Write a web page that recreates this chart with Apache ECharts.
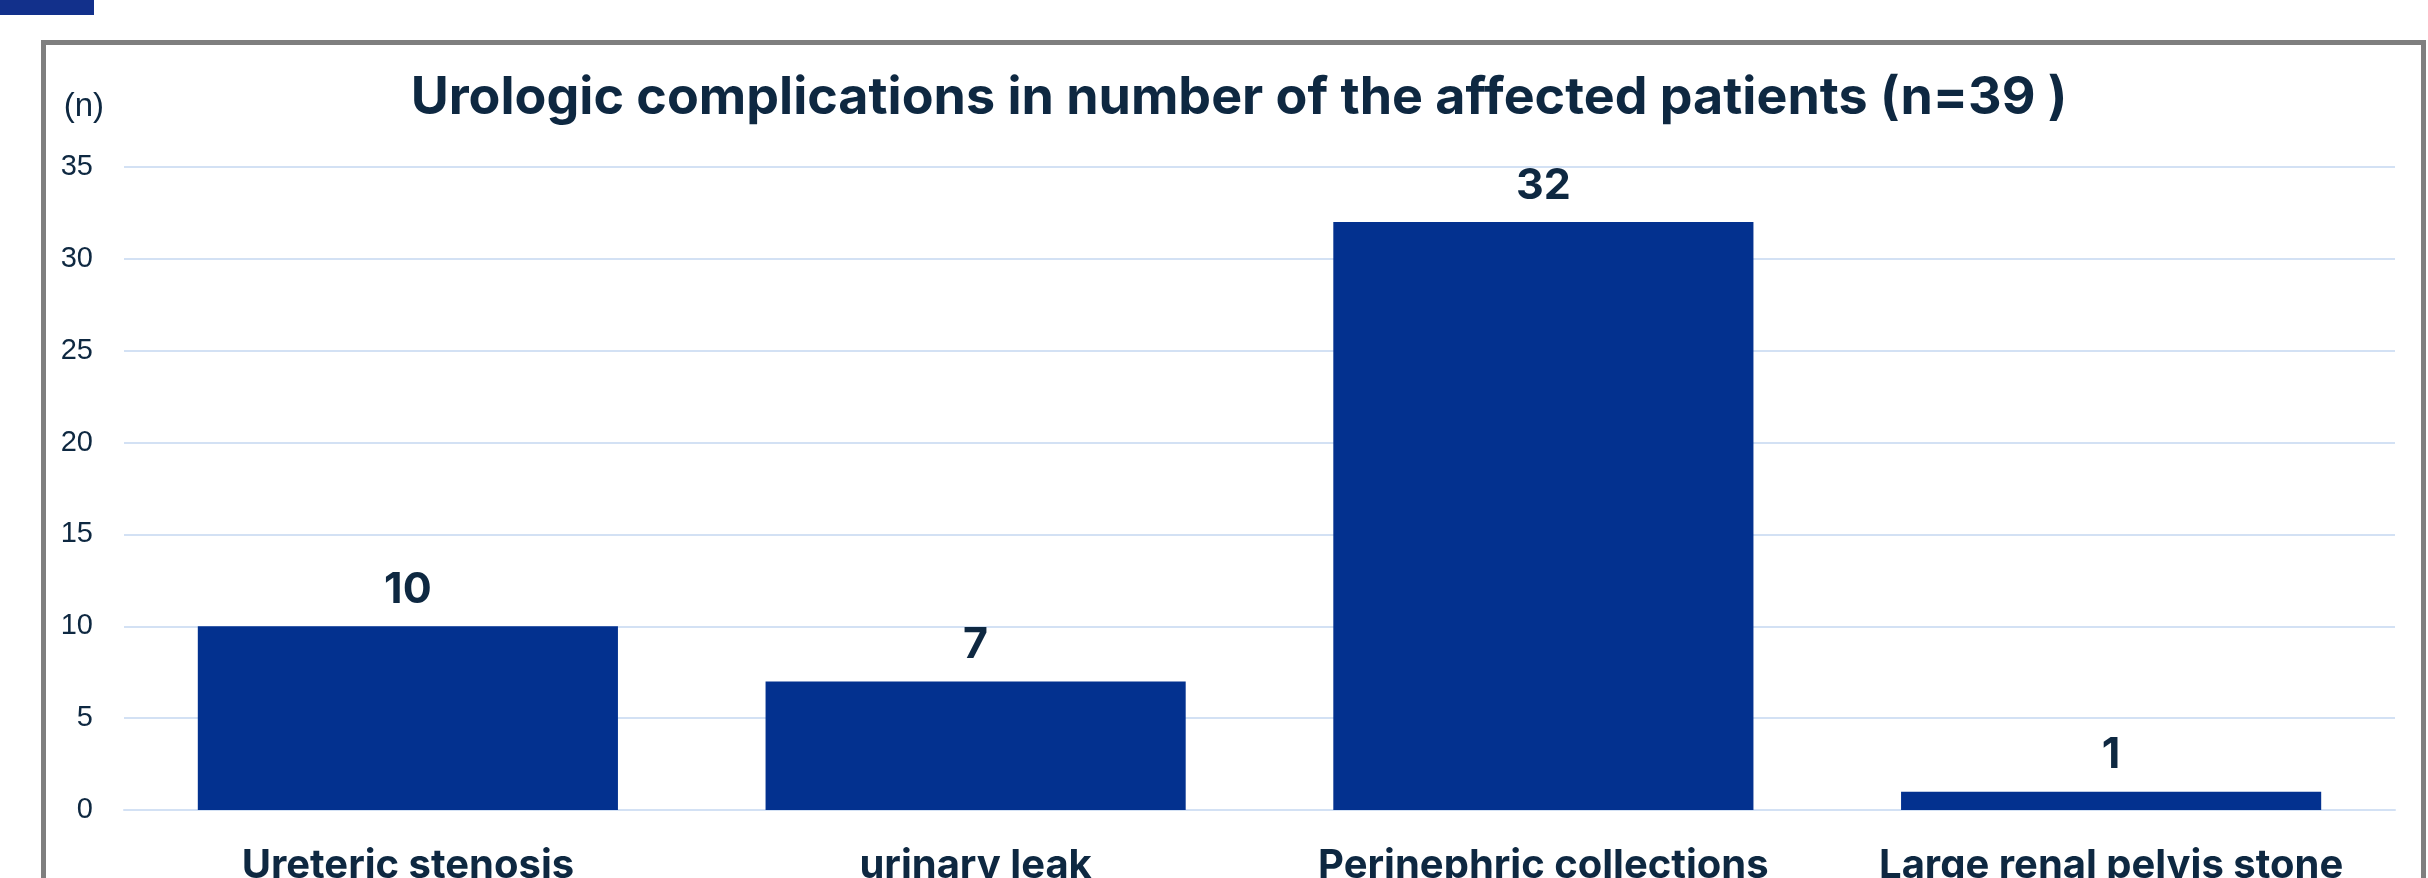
<!DOCTYPE html>
<html>
<head>
<meta charset="utf-8">
<title>Urologic complications</title>
<script src="https://cdn.jsdelivr.net/npm/echarts@6/dist/echarts.min.js"></script>
<style>
  html, body { margin: 0; padding: 0; background: #ffffff; }
  #chart { width: 2428px; height: 878px; }
</style>
</head>
<body>
<div id="chart"></div>
<script>
// Complication categories and number of affected patients
const categories = ['Ureteric stenosis', 'urinary leak', 'Perinephric collections', 'Large renal pelvis stone'];
const patientCounts = [10, 7, 32, 1];
const titleText = 'Urologic complications in number of the affected patients (n=39 )';
const axisUnit = '(n)';

const ink = '#0E2841';
const barColor = '#03318F';
const gridColor = '#D3E1F4';

const chart = echarts.init(document.getElementById('chart'), null, { renderer: 'canvas' });

chart.setOption({
  backgroundColor: '#ffffff',
  animation: false,
  title: {
    text: titleText,
    left: 1234,
    top: 67,
    textAlign: 'center',
    textStyle: {
      fontFamily: 'Inter',
      fontWeight: 'bold',
      fontSize: 52,
      color: ink
    }
  },
  graphic: [
    {
      type: 'rect',
      shape: { x: 0, y: 0, width: 94, height: 15 },
      style: { fill: '#12308B' },
      silent: true
    },
    {
      type: 'rect',
      shape: { x: 43.5, y: 42.5, width: 2380, height: 1000 },
      style: { fill: null, stroke: '#7F7F7F', lineWidth: 5 },
      silent: true
    }
  ],
  grid: {
    left: 124,
    right: 33,
    top: 167,
    bottom: 68,
    containLabel: false,
    outerBoundsMode: 'none'
  },
  xAxis: {
    type: 'category',
    data: categories,
    axisTick: { show: false },
    axisLine: { show: true, lineStyle: { color: gridColor, width: 2 } },
    axisLabel: {
      margin: 36,
      interval: 0,
      fontFamily: 'Inter',
      fontWeight: 'bold',
      fontSize: 40,
      color: ink
    }
  },
  yAxis: {
    type: 'value',
    min: 0,
    max: 35,
    interval: 5,
    name: axisUnit,
    nameLocation: 'end',
    nameGap: 60,
    nameTextStyle: {
      fontFamily: 'Liberation Sans',
      fontSize: 33,
      color: ink,
      align: 'right',
      verticalAlign: 'middle',
      padding: [0, 20, 0, 0]
    },
    axisLine: { show: false },
    axisTick: { show: false },
    axisLabel: {
      margin: 31,
      fontFamily: 'Liberation Sans',
      fontSize: 29,
      color: ink
    },
    splitLine: { lineStyle: { color: gridColor, width: 2 } }
  },
  series: [
    {
      type: 'bar',
      data: patientCounts,
      barWidth: '74%',
      itemStyle: { color: barColor },
      label: {
        show: true,
        position: 'top',
        distance: 15,
        fontFamily: 'Inter',
        fontWeight: 'bold',
        fontSize: 43,
        color: ink
      }
    }
  ]
});
</script>
</body>
</html>
